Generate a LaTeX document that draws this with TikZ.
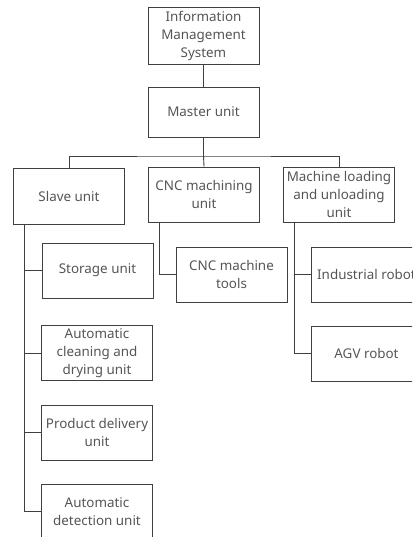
\documentclass[tikz,border=0pt]{standalone}
\usepackage{fontspec}
\setmainfont{Noto Sans}
\definecolor{txt}{HTML}{555555}
\definecolor{ln}{HTML}{404040}
\begin{document}
\begin{tikzpicture}[x=1pt,y=-1pt,
  box/.style={draw=ln,line width=0.9pt,minimum width=111pt,minimum height=55pt,inner sep=0pt,
    align=center,text=txt,font=\fontsize{13.4}{18}\selectfont},
  conn/.style={draw=ln,line width=0.9pt}]
\useasboundingbox (0,0) rectangle (412,537);
\clip (0,0) rectangle (412,537);
\node[box,minimum height=57pt] (ims) at (203.5,35.5) {Information\\Management\\System};
\node[box,minimum height=50pt] (master) at (203.5,112) {Master unit};
\node[box,minimum height=56pt] (slave) at (69,196) {Slave unit};
\node[box] (cncu) at (204,194.5) {CNC machining\\unit};
\node[box] (mlu) at (339,194.5) {Machine loading\\and unloading\\unit};
\node[box] (storage) at (97.5,270.5) {Storage unit};
\node[box] (clean) at (97,353) {Automatic\\cleaning and\\drying unit};
\node[box] (deliv) at (97,432.5) {Product delivery\\unit};
\node[box] (detect) at (97,511.5) {Automatic\\detection unit};
\node[box] (tools) at (231.5,274.5) {CNC machine\\tools};
\node[box] (indr) at (366.5,274.5) {Industrial robot};
\node[box] (agv) at (366.5,353.5) {AGV robot};
\coordinate (bus) at (203.5,156);
\draw[conn] (ims) -- (master);
\draw[conn] (master) -- (bus);
\draw[conn] (slave.north) |- (bus) -| (mlu.north);
\draw[conn] (bus) -- (cncu.north);
\coordinate (sv) at (24,0);
\draw[conn] (sv |- slave.south) |- (detect.west);
\draw[conn] (sv |- storage.west) -- (storage.west);
\draw[conn] (sv |- clean.west) -- (clean.west);
\draw[conn] (sv |- deliv.west) -- (deliv.west);
\coordinate (cv) at (159,0);
\draw[conn] (cv |- cncu.south) |- (tools.west);
\coordinate (mv) at (294,0);
\draw[conn] (mv |- mlu.south) |- (agv.west);
\draw[conn] (mv |- indr.west) -- (indr.west);
\end{tikzpicture}
\end{document}
